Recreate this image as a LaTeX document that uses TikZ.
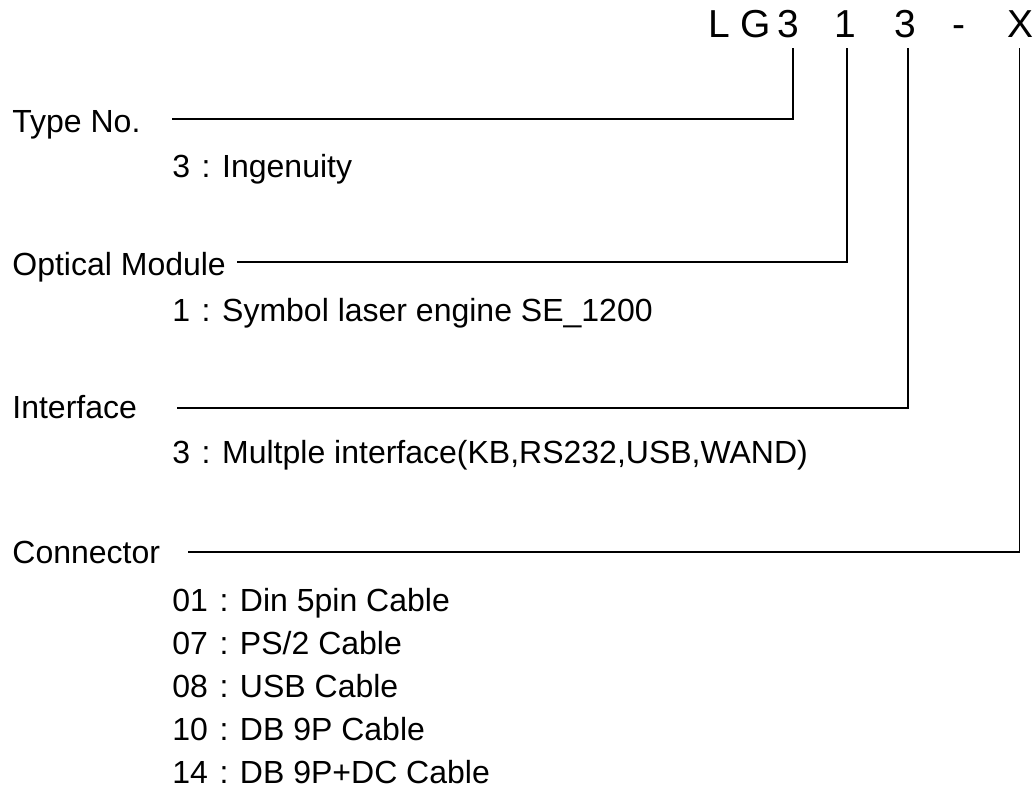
\documentclass[tikz,border=0pt]{standalone}
\usepackage{fontspec}
\setmainfont{Liberation Sans}
\usetikzlibrary{calc}
\newcommand{\fwcolon}{\makebox[1em]{:}}
\tikzset{
  codechar/.style={font=\fontsize{19.5}{22}\selectfont, inner sep=0pt, outer ysep=5.5pt, anchor=base},
  headlab/.style={font=\fontsize{16}{19}\selectfont, inner sep=0pt, anchor=base west},
  itemlab/.style={font=\fontsize{16}{19}\selectfont, inner sep=0pt, anchor=base west},
  leadline/.style={draw=black, line width=0.9pt},
}

\begin{document}
\begin{tikzpicture}[x=0.5pt,y=-0.5pt]
\useasboundingbox (0,0) rectangle (1033,809);
% model code
\node[codechar] (cL) at (719.5,37) {L};
\node[codechar] (cG) at (756,37) {G};
\node[codechar] (cType) at (788.5,37) {3};
\node[codechar] (cOpt) at (845,37) {1};
\node[codechar] (cIf) at (905,37) {3};
\node[codechar] (cDash) at (958.5,37) {-};
\node[codechar] (cCon) at (1020,37) {X};
% field names
\node[headlab] (type) at (12,132) {Type No.};
\node[headlab] (opt) at (12,275) {Optical Module};
\node[headlab] (iface) at (12,418) {Interface};
\node[headlab] (conn) at (12,563) {Connector};
% options
\node[itemlab] (type3) at (172,177) {3\fwcolon Ingenuity};
\node[itemlab] (opt1) at (172,321) {1\fwcolon Symbol laser engine SE\_1200};
\node[itemlab] (iface3) at (172,463) {3\fwcolon Multple interface(KB,RS232,USB,WAND)};
\node[itemlab] (con01) at (172,611) {01\fwcolon Din 5pin Cable};
\node[itemlab] (con07) at (172,654) {07\fwcolon PS/2 Cable};
\node[itemlab] (con08) at (172,697) {08\fwcolon USB Cable};
\node[itemlab] (con10) at (172,740) {10\fwcolon DB 9P Cable};
\node[itemlab] (con14) at (172,783) {14\fwcolon DB 9P+DC Cable};
% leader lines
\coordinate (typeS) at (172,119);
\coordinate (optS) at (237,262);
\coordinate (ifaceS) at (177,408);
\coordinate (connS) at (188,552);
\draw[leadline] (typeS) -| ([xshift=2.25pt]cType.south);
\draw[leadline] (optS) -| ([xshift=1pt]cOpt.south);
\draw[leadline] (ifaceS) -| ([xshift=1.5pt]cIf.south);
\draw[leadline] (connS) -| ([xshift=-0.25pt]cCon.south);
\end{tikzpicture}
\end{document}
